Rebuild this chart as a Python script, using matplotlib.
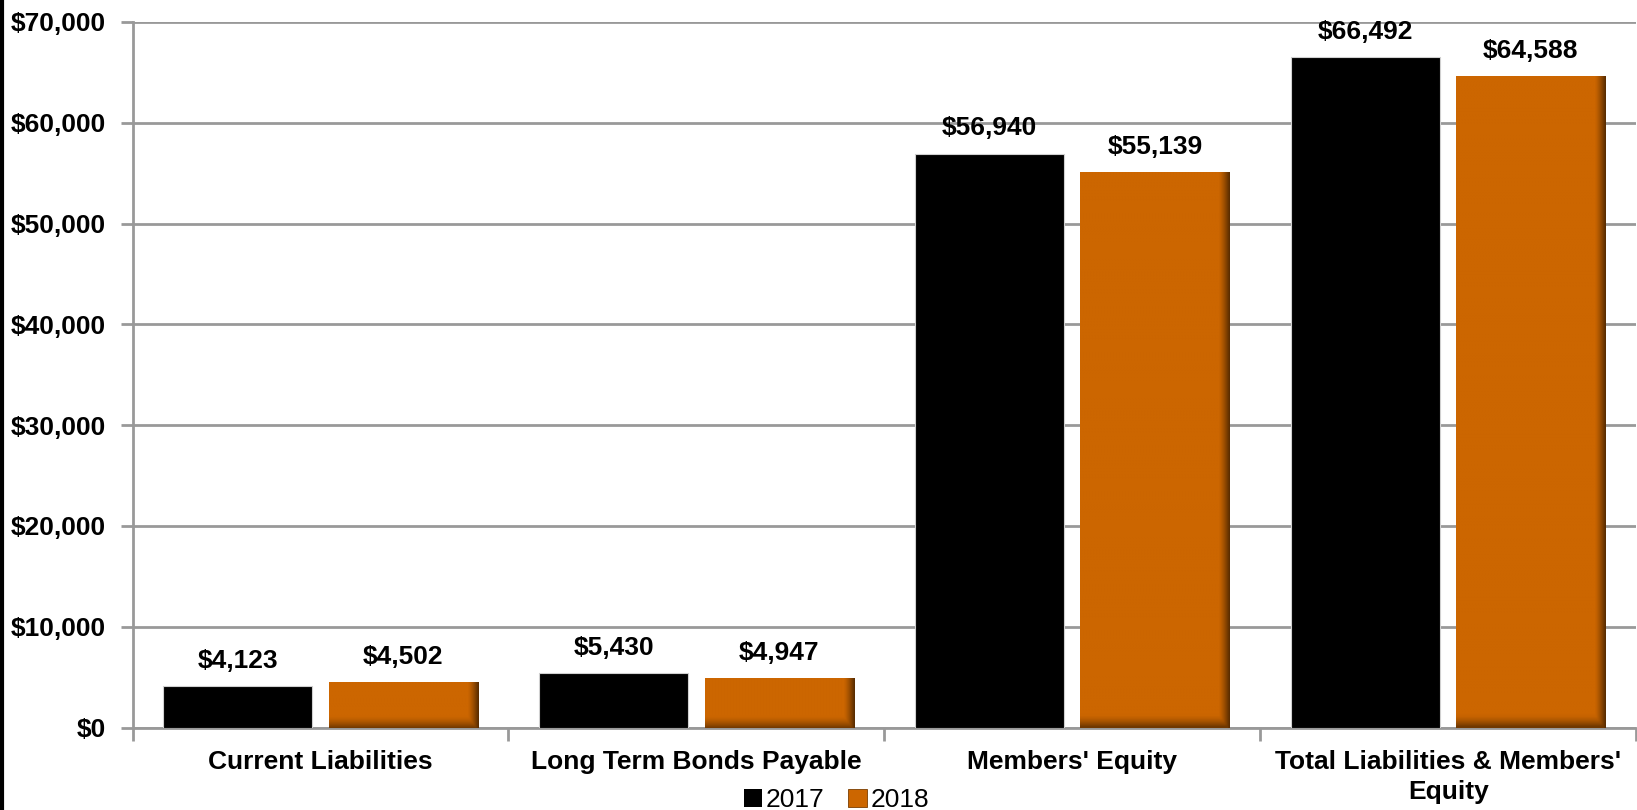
import numpy as np
import matplotlib
matplotlib.use('Agg')
import matplotlib.pyplot as plt
from matplotlib.colors import to_rgb
from matplotlib.lines import Line2D
from matplotlib.patches import Patch

categories = ['Current Liabilities', 'Long Term Bonds Payable', "Members' Equity",
              "Total Liabilities & Members'\nEquity"]
years = ['2017', '2018']
values_2017 = [4123, 5430, 56940, 66492]
values_2018 = [4502, 4947, 55139, 64588]
yticks = [0, 10000, 20000, 30000, 40000, 50000, 60000, 70000]

BLACK = '#000000'
ORANGE = '#CC6600'
FS = 19

plt.rcParams['font.family'] = ['Liberation Sans', 'DejaVu Sans']

fig = plt.figure(figsize=(16.37, 8.10), dpi=100)
ax = fig.add_axes([0.081, 0.1017, 0.9185, 0.8713])

x = np.arange(len(categories))
width = 0.397
off = 0.22

ax.bar(x - off, values_2017, width, color=BLACK, edgecolor='#d0d0d0', linewidth=0.8, zorder=3)
bars18 = ax.bar(x + off, values_2018, width, color=ORANGE, linewidth=0, zorder=3)


def shade(ax, bar):
    # darken the right and bottom edges of a bar with a soft gradient
    x0, y0 = bar.get_x(), bar.get_y()
    w, h = bar.get_width(), bar.get_height()
    ny, nx = 200, 100
    base = np.array(to_rgb(ORANGE))
    xs = np.linspace(0, 1, nx)
    bar_px_h = h / 70000 * 705
    right = np.clip((xs - 0.93) / 0.07, 0, 1) ** 1.3
    ys = np.linspace(0, 1, ny)[:, None] * bar_px_h  # px from bottom
    bottom = np.clip(1 - ys / 12.0, 0, 1) ** 1.5
    dark = np.clip(np.maximum(right[None, :] * 0.55, bottom * 0.45), 0, 0.6)
    img = base[None, None, :] * (1 - dark[..., None])
    ax.imshow(img, extent=(x0, x0 + w, y0, y0 + h), origin='lower',
              aspect='auto', interpolation='bilinear', zorder=3.5)


for b in bars18:
    shade(ax, b)

for xi, v in zip(x - off, values_2017):
    ax.annotate(f'${v:,}', xy=(xi, v), xytext=(0, 9.5), textcoords='offset points',
                ha='center', va='bottom', fontsize=FS, fontweight='bold')
for xi, v in zip(x + off, values_2018):
    ax.annotate(f'${v:,}', xy=(xi, v), xytext=(0, 9.5), textcoords='offset points',
                ha='center', va='bottom', fontsize=FS, fontweight='bold')

ax.set_xlim(-0.5, len(categories) - 0.5)
ax.set_ylim(0, 70000)
ax.set_yticks(yticks)
ax.yaxis.set_major_formatter(plt.FuncFormatter(lambda v, _: f'${v:,.0f}'))
ax.grid(axis='y', color='#999999', linewidth=2, zorder=0)
ax.set_axisbelow(True)

# category boundaries carry the x ticks, labels sit in the middle
ax.set_xticks(np.arange(len(categories) + 1) - 0.5)
ax.set_xticklabels([])
ax.set_xticks(x, minor=True)
ax.set_xticklabels(categories, minor=True, fontsize=FS, fontweight='bold',
                   linespacing=1.35)
ax.tick_params(axis='x', which='minor', length=0, pad=16)
ax.tick_params(axis='x', which='major', length=9, width=2, color='#999999')
ax.tick_params(axis='y', length=9, width=2, color='#999999', labelsize=FS, pad=10)
for lbl in ax.get_yticklabels():
    lbl.set_fontweight('bold')
for t in ax.xaxis.get_major_ticks():
    t.tick1line.set_clip_on(False)

for s in ['top', 'right']:
    ax.spines[s].set_visible(False)
for s in ['left', 'bottom']:
    ax.spines[s].set_color('#999999')
    ax.spines[s].set_linewidth(2)

handles = [Patch(facecolor=BLACK), Patch(facecolor=ORANGE, edgecolor='#7a3d00', linewidth=0.6)]
fig.legend(handles, years, loc='center', bbox_to_anchor=(0.511, 0.012), ncol=2,
           frameon=False, fontsize=FS, handlelength=0.7, handleheight=0.7,
           handletextpad=0.15, columnspacing=0.9, borderpad=0)

# thin black rule down the left edge
fig.add_artist(Line2D([0.001, 0.001], [0, 1], transform=fig.transFigure,
                      color='black', linewidth=3))

plt.savefig('out.png', dpi=100)
plt.close()
